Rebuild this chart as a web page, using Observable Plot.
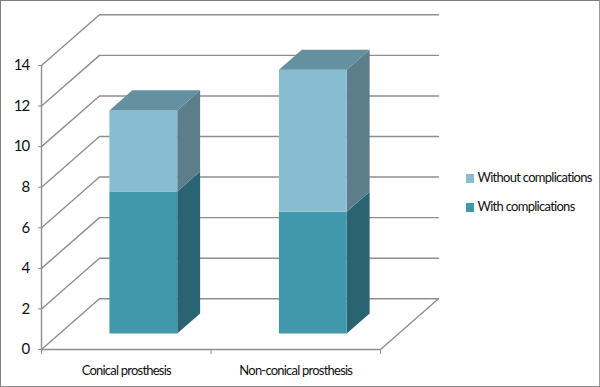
<!DOCTYPE html>
<html>
<head>
<meta charset="utf-8">
<script src="https://cdn.jsdelivr.net/npm/d3@7"></script>
<script src="https://cdn.jsdelivr.net/npm/@observablehq/plot@0.6"></script>
<style>
html,body{margin:0;padding:0;background:#fff;}
#frame{position:relative;width:600px;height:387px;box-sizing:border-box;overflow:hidden;}
#frame:after{content:"";position:absolute;left:0;top:0;right:0;bottom:0;border:1.5px solid #7f7f7f;border-right-color:#9a9a9a;border-bottom-color:#8a8a8a;pointer-events:none;}
svg{position:absolute;left:0;top:0;}
svg text{font-family:Lato,"Open Sans",sans-serif;fill:#111;}
.legend{position:absolute;left:466px;font:13px Lato,sans-serif;letter-spacing:-.72px;color:#111;line-height:14px;white-space:nowrap;}
.legend i{display:inline-block;width:8px;height:8.5px;margin-right:3.5px;vertical-align:-0.5px;}
</style>
</head>
<body>
<div id="frame"></div>
<script>
const categories = ["Conical prosthesis", "Non-conical prosthesis"];
const seriesNames = ["With complications", "Without complications"];
const withComplications = [7, 6];
const withoutComplications = [4, 7];
const yTicks = [0, 2, 4, 6, 8, 10, 12, 14];

// colours: [front, side, top]
const palette = {
  "With complications": ["#4197ac", "#2a6472", "#2a6472"],
  "Without complications": ["#88bcd0", "#5c7e8b", "#65909f"]
};
const gridColor = "#8e8e8e";

// Oblique projection: depth d (0 front, 1 back wall) shifts a point in data units
const depthX = 0.342, depthY = 2.5;
const P = (c, v, d) => ({x: c + d * depthX, y: v + d * depthY});
const barD0 = 0.315, barD1 = 0.71, barW = 0.4, barCentre = 0.493;

// wall and floor lines
const lines = [];
yTicks.forEach(v => [P(0, v, 0), P(0, v, 1), P(2, v, 1)].forEach(p => lines.push({...p, z: "g" + v})));
[P(0, 0, 0), P(0, 14, 0)].forEach(p => lines.push({...p, z: "axisY"}));
[P(0, 0, 0), P(2, 0, 0), P(2, 0, 1)].forEach(p => lines.push({...p, z: "floor"}));

// bar faces
const faces = [];
function face(id, fill, pts) { pts.forEach(p => faces.push({...p, z: id, fill})); }
categories.forEach((cat, i) => {
  const x0 = i + barCentre - barW / 2, x1 = i + barCentre + barW / 2;
  const segs = [
    [seriesNames[0], 0, withComplications[i]],
    [seriesNames[1], withComplications[i], withComplications[i] + withoutComplications[i]]
  ];
  segs.forEach(([name, a, b], s) => {
    const [front, side] = palette[name];
    face(`${i}-${s}-side`, side, [P(x1, a, barD0), P(x1, a, barD1), P(x1, b, barD1), P(x1, b, barD0)]);
    face(`${i}-${s}-front`, front, [P(x0, a, barD0), P(x1, a, barD0), P(x1, b, barD0), P(x0, b, barD0)]);
    if (s === 1) face(`${i}-${s}-top`, palette[name][2], [P(x0, b, barD0), P(x1, b, barD0), P(x1, b, barD1), P(x0, b, barD1)]);
  });
});

const chart = Plot.plot({
  width: 600,
  height: 387,
  marginLeft: 41,
  marginRight: 220,
  marginTop: 65,
  marginBottom: 38,
  style: {background: "transparent", overflow: "visible"},
  x: {domain: [0, 2], axis: null},
  y: {domain: [0, 14], axis: null},
  color: {type: "identity"},
  marks: [
    Plot.line(lines, {x: "x", y: "y", z: "z", stroke: gridColor, strokeWidth: 1.4}),
    Plot.line(faces, {x: "x", y: "y", z: "z", fill: "fill", stroke: "none"}),
    Plot.axisY({ticks: yTicks, tickSize: 3, tickPadding: 9, fontSize: 15, label: null, stroke: gridColor, tickFormat: d => d}),
    Plot.axisX({ticks: [0, 1, 2], tickSize: 5, tickFormat: () => "", label: null, stroke: gridColor}),
    Plot.axisX({ticks: [0.5, 1.5], tickSize: 0, tickPadding: 16, fontSize: 13, label: null, tickFormat: d => categories[d - 0.5]})
  ]
});
document.getElementById("frame").appendChild(chart);
chart.querySelectorAll("text").forEach(t => t.setAttribute("style", "letter-spacing:-.78px"));

[[seriesNames[1], 170], [seriesNames[0], 199]].forEach(([name, top]) => {
  const d = document.createElement("div");
  d.className = "legend";
  d.style.top = top + "px";
  d.innerHTML = `<i style="background:${palette[name][0]}"></i>${name}`;
  document.getElementById("frame").appendChild(d);
});
</script>
</body>
</html>
